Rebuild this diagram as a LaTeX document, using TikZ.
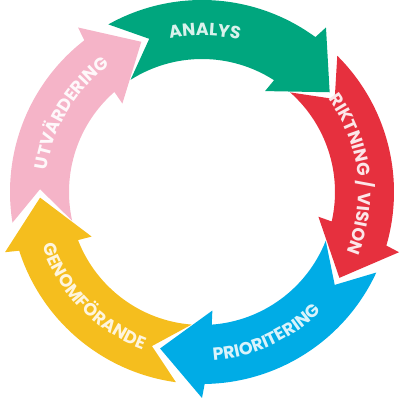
\documentclass[tikz,border=0pt]{standalone}
\usepackage{fontspec}
\setmainfont{Poppins}
\usetikzlibrary{decorations.text}

\definecolor{analys}{RGB}{0,166,126}
\definecolor{riktning}{RGB}{230,48,62}
\definecolor{prio}{RGB}{0,172,230}
\definecolor{genomf}{RGB}{245,190,30}
\definecolor{utv}{RGB}{245,180,200}

% one curved arrow of the ring: colour, tip angle, tip angle of the arrow before
\newcommand\ringarrow[3]{%
  \pgfmathsetmacro\ta{#3+7.2}\pgfmathsetmacro\tb{#2+15.8}%
  \pgfmathsetmacro\tc{#2+19.2}\pgfmathsetmacro\td{#3+10.5}%
  \fill[#1] (\ta:192) arc[start angle=\ta, end angle=\tb, radius=192]
    -- ({#2+15}:206) -- (#2:162) -- ({#2+20}:119) -- (\tc:133)
    arc[start angle=\tc, end angle=\td, radius=133] -- ({#3-3}:162) -- cycle;}

\newcommand\ringfont{\bfseries\fontsize{12.5}{12.5}\selectfont}

\begin{document}
\begin{tikzpicture}[x=0.025cm,y=0.025cm]
\useasboundingbox (0,0) rectangle (400,401);
\coordinate (O) at (202,209);
\begin{scope}[shift={(O)}]
\ringarrow{analys}{38}{112}
\ringarrow{riktning}{-32}{38}
\ringarrow{prio}{-105}{-32}
\ringarrow{genomf}{-178}{-105}
\ringarrow{utv}{112}{182}
% labels
\path[decorate, decoration={text along path, text align=center,
    text color=white!85!analys, text={|\ringfont|ANALYS}}]
  (129:156.5) arc[start angle=129, end angle=49, radius=156.5];
\path[decorate, decoration={text along path, text align=center,
    text color=white!88!riktning, text={|\ringfont|RIKTNING / VISION}}]
  (48:156.5) arc[start angle=48, end angle=-34, radius=156.5];
\path[decorate, decoration={text along path, text align=center,
    text color=white!85!prio, text={|\ringfont|PRIORITERING}}]
  (-105.5:168.5) arc[start angle=-105.5, end angle=-25.5, radius=168.5];
\path[decorate, decoration={text along path, text align=center,
    text color=white!85!genomf, text={|\ringfont|GENOMFÖRANDE}}]
  (-176:168.5) arc[start angle=-176, end angle=-96, radius=168.5];
\path[decorate, decoration={text along path, text align=center,
    text color=white!90!utv, text={|\ringfont|UTVÄRDERING}}]
  (189:156.5) arc[start angle=189, end angle=109, radius=156.5];
\end{scope}
\end{tikzpicture}
\end{document}
